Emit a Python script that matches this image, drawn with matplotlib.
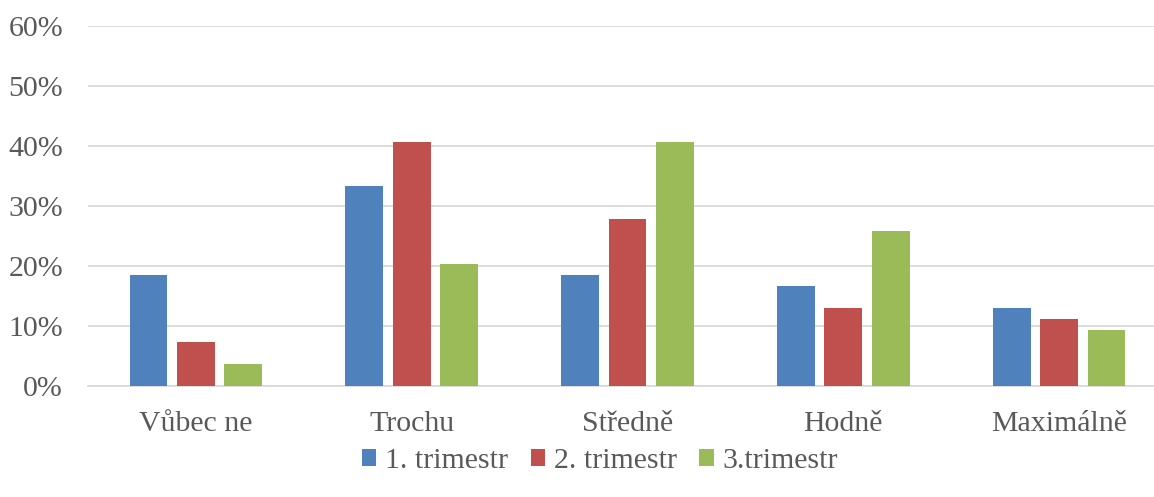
import matplotlib
matplotlib.use("Agg")
import matplotlib.pyplot as plt
import numpy as np
from matplotlib.ticker import FuncFormatter

categories = ["Vůbec ne", "Trochu", "Středně", "Hodně", "Maximálně"]
series_names = ["1. trimestr", "2. trimestr", "3.trimestr"]
trimestr1 = [18.5, 33.3, 18.5, 16.7, 13.0]
trimestr2 = [7.4, 40.7, 27.8, 13.0, 11.1]
trimestr3 = [3.7, 20.4, 40.7, 25.9, 9.3]
colors = ["#4F81BD", "#C0504D", "#9BBB59"]

plt.rcParams["font.family"] = ["Liberation Serif", "DejaVu Serif"]
text_color = "#595959"

fig = plt.figure(figsize=(11.54, 4.97), dpi=100)
ax = fig.add_axes([88 / 1154, 111 / 497, 1079 / 1154, 360 / 497])

x = np.arange(len(categories))
width = 0.175
step = 0.22
for i, (vals, name) in enumerate(zip([trimestr1, trimestr2, trimestr3], series_names)):
    ax.bar(x + (i - 1) * step, vals, width, color=colors[i], label=name, zorder=3)

ax.set_xlim(-0.5, len(categories) - 0.5)
ax.set_ylim(0, 60)
ax.set_yticks(np.arange(0, 61, 10))
ax.yaxis.set_major_formatter(FuncFormatter(lambda v, _: f"{int(v)}%"))
ax.set_xticks(x)
ax.set_xticklabels(categories)
ax.grid(axis="y", color="#D9D9D9", linewidth=1.3, zorder=0)
for s in ["top", "right", "left"]:
    ax.spines[s].set_visible(False)
ax.spines["bottom"].set_color("#D9D9D9")
ax.spines["bottom"].set_linewidth(1.3)
ax.tick_params(axis="both", length=0, labelsize=21.5, labelcolor=text_color)
ax.tick_params(axis="x", pad=18)
ax.tick_params(axis="y", pad=18)

leg = fig.legend(loc="center", bbox_to_anchor=(600 / 1154, 1 - 461 / 497), ncol=3,
                 frameon=False, fontsize=21.5, handlelength=0.48, handleheight=0.48,
                 handletextpad=0.3, columnspacing=0.75)
for t in leg.get_texts():
    t.set_color(text_color)

fig.savefig("out.png", dpi=100)
